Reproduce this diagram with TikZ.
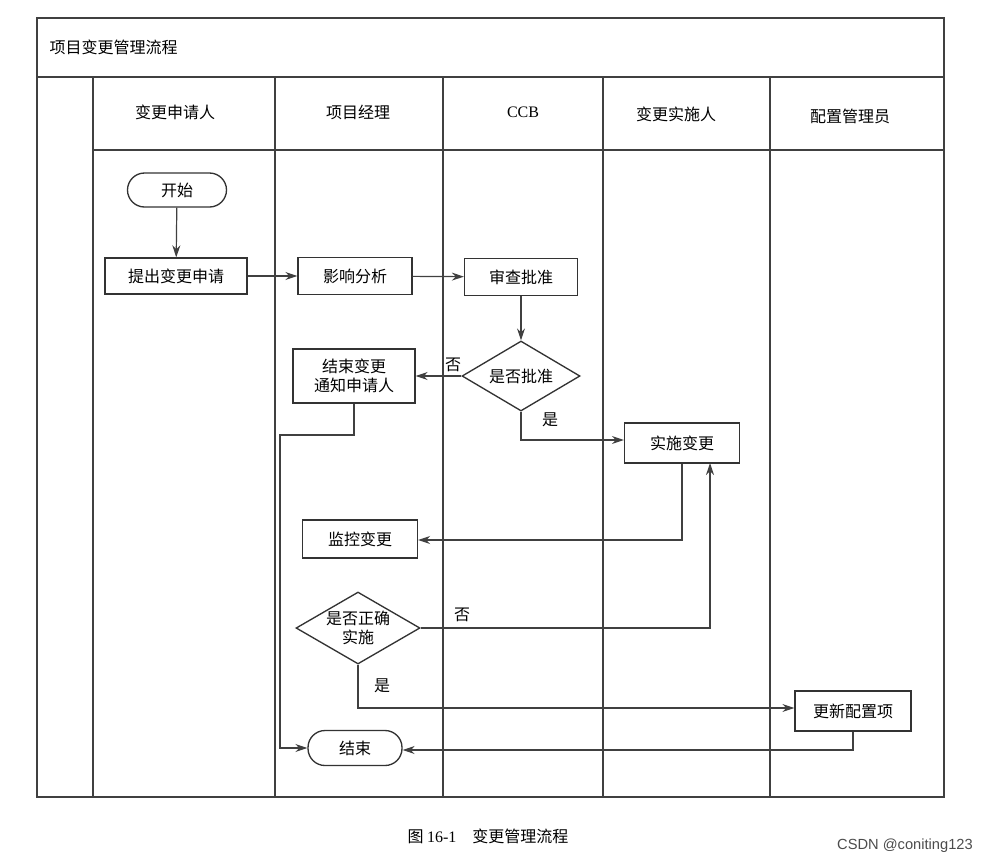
\documentclass[tikz,border=0pt]{standalone}
\usepackage{fontspec}
\setmainfont{Liberation Serif}
\newfontfamily\cjk{Noto Sans CJK SC}
\usetikzlibrary{shapes.geometric,arrows.meta}
\begin{document}
\begin{tikzpicture}[x=0.75pt,y=-0.75pt,
  font=\cjk\fontsize{12}{14}\selectfont,
  line/.style={draw=black!75,line width=0.9pt},
  arr/.style={line,-{Stealth[length=9pt,width=6pt]}},
  box/.style={draw=black!80,line width=1pt,fill=white,inner sep=0pt},
  term/.style={box,rounded corners=17*0.75pt}]
\useasboundingbox (0,0) rectangle (1005,865);
% frame
\draw[line] (37,18) rectangle (944,797);
\draw[line] (37,77) -- (944,77);
\draw[line] (93,150) -- (944,150);
\foreach \x in {93,275,443,603,770} \draw[line] (\x,77) -- (\x,797);
\node[anchor=west] (title) at (45,47) {项目变更管理流程};
\node (h1) at (175,112) {变更申请人};
\node (h2) at (358,112) {项目经理};
\node (h3) at (523,112) {\rmfamily CCB};
\node (h4) at (676,114) {变更实施人};
\node (h5) at (850,116) {配置管理员};
% nodes
\node[term,minimum width=99*0.75pt,minimum height=34*0.75pt] (start) at (177,190) {开始};
\node[box,minimum width=142*0.75pt,minimum height=36*0.75pt] (req) at (176,276) {提出变更申请};
\node[box,minimum width=114*0.75pt,minimum height=37*0.75pt] (ana) at (355,276) {影响分析};
\node[box,minimum width=113*0.75pt,minimum height=37*0.75pt] (rev) at (521,277) {审查批准};
\node[box,diamond,minimum width=118*0.75pt,minimum height=70*0.75pt,inner sep=0pt] (ok) at (521,376) {};
\node at (ok) {是否批准};
\node[box,minimum width=122*0.75pt,minimum height=54*0.75pt,align=center] (endc) at (354,376) {结束变更\\通知申请人};
\node[box,minimum width=115*0.75pt,minimum height=40*0.75pt] (impl) at (682,443) {实施变更};
\node[box,minimum width=115*0.75pt,minimum height=38*0.75pt] (mon) at (360,539) {监控变更};
\node[box,diamond,minimum width=124*0.75pt,minimum height=72*0.75pt,inner sep=0pt] (cor) at (358,628) {};
\node[align=center] at (cor) {是否正确\\实施};
\node[box,minimum width=116*0.75pt,minimum height=40*0.75pt] (upd) at (853,711) {更新配置项};
\node[term,minimum width=94*0.75pt,minimum height=35*0.75pt] (fin) at (355,748) {结束};
% edges
\draw[arr] (start) -- (req);
\draw[arr] (req) -- (ana);
\draw[arr] (ana) -- (rev);
\draw[arr] (rev) -- (ok);
\draw[arr] (ok.west) -- (endc.east);
\node at (453,365) {否};
\coordinate (c1) at (521,440);
\draw[arr] (ok.south) -- (c1) -- (impl.west |- c1);
\node at (550,420) {是};
\draw[arr] (endc.south) -- (354,435) -- (280,435) -- (280,748) -- (fin.west);
\draw[arr] (impl.south) -- (682,540) -- (mon.east |- 0,540);
\draw[arr] (cor.east) -- (710,628) -- (710,463);
\node at (462,615) {否};
\draw[arr] (cor.south) -- (358,708) -- (upd.west |- 0,708);
\node at (382,686) {是};
\draw[arr] (upd.south) -- (853,750) -- (fin.east |- 0,750);
% caption
\node (cap) at (488,836) {图 {\rmfamily 16-1}\quad 变更管理流程};
\node[text=black!70,font=\fontspec{Liberation Sans}\fontsize{11}{13}\selectfont] (wm) at (905,846) {CSDN @coniting123};
\end{tikzpicture}
\end{document}
